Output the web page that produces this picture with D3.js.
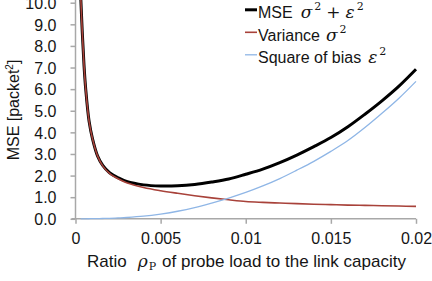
<!DOCTYPE html>
<html>
<head>
<meta charset="utf-8">
<script src="https://cdn.jsdelivr.net/npm/d3@7"></script>
<style>
  body { margin: 0; background: #fff; }
  svg { display: block; font-family: "Liberation Sans", Arial, sans-serif; }
  .math { font-family: "DejaVu Serif", "Liberation Serif", serif; font-style: italic; }
</style>
</head>
<body>
<svg id="chart" width="432" height="281"></svg>
<script>
// ratio of probe load (x)
var ratios = [0.0003, 0.0004, 0.0005, 0.0006, 0.0008, 0.001, 0.0013, 0.0016, 0.002, 0.0025,
  0.003, 0.004, 0.005, 0.006, 0.007, 0.008, 0.009, 0.01, 0.011, 0.012,
  0.013, 0.014, 0.015, 0.016, 0.017, 0.018, 0.019, 0.02];
var mseValues = [10.4, 8.6, 7.1, 6.0, 4.5, 3.7, 2.9, 2.47, 2.13, 1.9,
  1.73, 1.57, 1.52, 1.53, 1.59, 1.7, 1.84, 2.06, 2.3, 2.6,
  2.95, 3.34, 3.76, 4.26, 4.84, 5.46, 6.14, 6.92];
var varianceValues = [10.4, 8.6, 7.1, 6.0, 4.5, 3.7, 2.9, 2.45, 2.1, 1.85,
  1.67, 1.45, 1.3, 1.18, 1.07, 0.97, 0.88, 0.8, 0.76, 0.73,
  0.7, 0.675, 0.655, 0.635, 0.62, 0.605, 0.59, 0.575];
var biasValues = [0, 0, 0, 0.001, 0.003, 0.005, 0.009, 0.014, 0.022, 0.04,
  0.06, 0.12, 0.22, 0.35, 0.52, 0.73, 0.96, 1.22, 1.52, 1.86,
  2.25, 2.66, 3.12, 3.62, 4.22, 4.88, 5.58, 6.36];
var xTicks = [0, 0.005, 0.01, 0.015, 0.02];
var xTickLabels = ['0', '0.005', '0.01', '0.015', '0.02'];
var yTicks = [0, 1, 2, 3, 4, 5, 6, 7, 8, 9, 10];

var svg = d3.select('#chart');
var x = d3.scaleLinear().domain([0, 0.02]).range([75.5, 416]);
var y = d3.scaleLinear().domain([0, 10]).range([218.8, 2.7]);
var axisColor = '#a8a8a8';
var textColor = '#151515';

// y axis
var yAxis = svg.append('g').attr('transform', 'translate(' + x(0) + ',0)')
  .call(d3.axisLeft(y).tickValues(yTicks).tickSize(5).tickPadding(14)
    .tickFormat(d3.format('.1f')));
yAxis.selectAll('line, path').attr('stroke', axisColor).attr('stroke-width', 1.5);
yAxis.select('.domain').attr('d', 'M0,' + y(0) + 'V' + 0);
yAxis.selectAll('text').attr('font-size', 16).attr('font-family', 'Liberation Sans, Arial')
  .attr('fill', textColor).attr('dy', '0.36em');

// x axis
var xAxis = svg.append('g').attr('transform', 'translate(0,' + y(0) + ')')
  .call(d3.axisBottom(x).tickValues(xTicks).tickSize(5).tickPadding(9)
    .tickFormat(function(d, i) { return xTickLabels[i]; }));
xAxis.selectAll('line, path').attr('stroke', axisColor).attr('stroke-width', 1.5);
xAxis.select('.domain').attr('d', 'M' + (x(0) - 4) + ',0H' + x(0.02));
xAxis.selectAll('text').attr('font-size', 16).attr('font-family', 'Liberation Sans, Arial')
  .attr('fill', textColor);

// clip
svg.append('clipPath').attr('id', 'plot')
  .append('rect').attr('x', x(0)).attr('y', 0).attr('width', 345).attr('height', y(0) + 1);

var line = function(vals) {
  return d3.line()
    .x(function(d, i) { return x(ratios[i]); })
    .y(function(d) { return y(d); })
    .curve(d3.curveCatmullRom.alpha(0.5))(vals);
};

var series = [
  { vals: mseValues, color: '#000', width: 3 },
  { vals: varianceValues, color: '#a8423a', width: 1.6 },
  { vals: biasValues, color: '#8fb6e6', width: 1.3 }
];
svg.append('g').attr('clip-path', 'url(#plot)')
  .selectAll('path').data(series).enter().append('path')
  .attr('d', function(d) { return line(d.vals); })
  .attr('fill', 'none')
  .attr('stroke', function(d) { return d.color; })
  .attr('stroke-width', function(d) { return d.width; });

// legend: [text, kind, dx]
var legend = [
  { color: '#000', width: 3, text: 'MSE', math: [['σ', 'var', 8], ['2', 'sup', 2], ['+', 'op', 5], ['ε', 'var', 5], ['2', 'sup', 2]] },
  { color: '#a8423a', width: 1.6, text: 'Variance', math: [['σ', 'var', 6], ['2', 'sup', 2]] },
  { color: '#8fb6e6', width: 1.3, text: 'Square of bias', math: [['ε', 'var', 7], ['2', 'sup', 2]] }
];
var lg = svg.append('g').selectAll('g').data(legend).enter().append('g')
  .attr('transform', function(d, i) { return 'translate(245,' + (9.8 + i * 22.5) + ')'; });
lg.append('line').attr('x1', 0).attr('x2', 12)
  .attr('stroke', function(d) { return d.color; })
  .attr('stroke-width', function(d) { return d.width; });
var lt = lg.append('text').attr('x', 13).attr('y', 8.5).attr('font-size', 16).attr('fill', textColor);
lt.append('tspan').text(function(d) { return d.text; });
lt.each(function(d) {
  var t = d3.select(this);
  var raised = false;
  d.math.forEach(function(m) {
    var s = t.append('tspan').text(m[0]).attr('dx', m[2]);
    if (m[1] === 'sup') {
      s.attr('font-family', 'DejaVu Serif').attr('font-size', 11).attr('dy', -8);
      raised = true;
    } else {
      if (raised) { s.attr('dy', 8); raised = false; }
      if (m[1] === 'op') s.attr('font-family', 'DejaVu Serif').attr('font-size', 17);
      else s.attr('class', 'math').attr('font-size', 17);
    }
  });
});

// y label
svg.append('text')
  .attr('transform', 'translate(19,110) rotate(-90)')
  .attr('text-anchor', 'middle').attr('font-size', 16).attr('fill', textColor)
  .text('MSE [packet')
  .append('tspan').attr('font-size', 10).attr('dy', -6).text('2')
  .select(function() { return this.parentNode; })
  .append('tspan').attr('dy', 6).text(']');

// x label
var xl = svg.append('text').attr('x', 87).attr('y', 266.5).attr('font-size', 17).attr('fill', textColor);
xl.append('tspan').text('Ratio');
xl.append('tspan').attr('class', 'math').attr('font-size', 17).attr('dx', 11).text('ρ');
xl.append('tspan').attr('font-family', 'DejaVu Serif').attr('font-size', 11).attr('dy', 3).attr('dx', 1).text('P');
xl.append('tspan').attr('dy', -3).attr('dx', 6).text('of probe load to the link capacity');
</script>
</body>
</html>
